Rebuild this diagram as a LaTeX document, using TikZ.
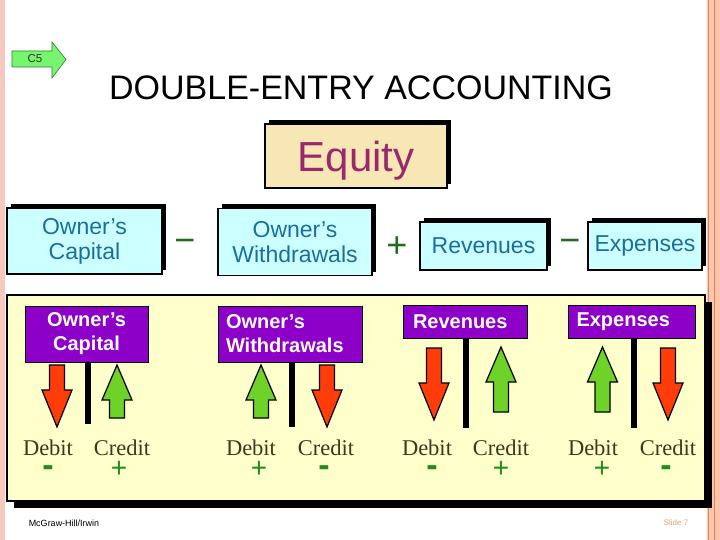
\documentclass[tikz,border=0pt]{standalone}
\usepackage{fontspec}
\setmainfont{Liberation Sans}
\newfontfamily\seriffam{Liberation Serif}
\usetikzlibrary{shadows}
\definecolor{leftpink}{RGB}{248,200,190}
\definecolor{rightpeach}{RGB}{255,196,170}
\definecolor{peachline}{RGB}{215,135,100}
\definecolor{cfivegreen}{RGB}{120,245,110}
\definecolor{cfiveedge}{RGB}{40,130,40}
\definecolor{eqfill}{RGB}{247,231,180}
\definecolor{eqtext}{RGB}{155,40,110}
\definecolor{topcyan}{RGB}{204,255,255}
\definecolor{toptext}{RGB}{25,110,160}
\definecolor{topsign}{RGB}{30,110,30}
\definecolor{panelcream}{RGB}{255,255,204}
\definecolor{hdrpurple}{RGB}{140,0,200}
\definecolor{arrred}{RGB}{255,60,10}
\definecolor{arrgreen}{RGB}{110,210,40}
\definecolor{dctext}{RGB}{60,55,30}
\definecolor{signgreen}{RGB}{30,140,30}
\definecolor{slidecol}{RGB}{230,160,110}
\newcommand\mydownarr[4]{%
 \draw[redarrow] ({#1-7.5},#2) -- ({#1+7.5},#2) -- ({#1+7.5},#3) -- ({#1+15},#3) -- (#1,#4) -- ({#1-15},#3) -- ({#1-7.5},#3) -- cycle;}
\newcommand\myuparr[4]{%
 \draw[greenarrow] (#1,#2) -- ({#1+15},#3) -- ({#1+7.5},#3) -- ({#1+7.5},#4) -- ({#1-7.5},#4) -- ({#1-7.5},#3) -- ({#1-15},#3) -- cycle;}
\begin{document}
\begin{tikzpicture}[x=1pt,y=-1pt,
  topbox/.style={draw=black, line width=1.5pt, fill=topcyan, text=toptext, align=center,
    inner sep=2pt, font=\fontsize{23}{25}\selectfont,
    drop shadow={shadow xshift=4pt, shadow yshift=4pt, fill=black, opacity=1}},
  eqbox/.style={draw=black, line width=1.5pt, fill=eqfill, text=eqtext, text depth=0pt,
    font=\fontsize{42}{46}\selectfont,
    drop shadow={shadow xshift=4pt, shadow yshift=4pt, fill=black, opacity=1}},
  topsignst/.style={text=topsign, font=\fontsize{36}{36}\selectfont, inner sep=0pt},
  hdr/.style={draw=black, line width=1pt, fill=hdrpurple, text=white, inner sep=2pt,
    font=\bfseries\fontsize{20}{24}\selectfont},
  stem/.style={line width=6pt, black},
  redarrow/.style={fill=arrred, draw=black, line width=1.2pt, line join=miter},
  greenarrow/.style={fill=arrgreen, draw=black, line width=1.2pt, line join=miter},
  dc/.style={text=dctext, anchor=base, inner sep=0pt, font=\seriffam\fontsize{22.5}{24}\selectfont},
  minussign/.style={text=signgreen, anchor=base, inner sep=0pt, font=\bfseries\fontsize{34}{34}\selectfont},
  plussign/.style={text=signgreen, anchor=base, inner sep=0pt, font=\fontsize{28}{28}\selectfont}
]
\useasboundingbox (0,0) rectangle (720,540);
\fill[white] (0,0) rectangle (720,540);
% side strips
\fill[leftpink] (0,0) rectangle (5,540);
\fill[rightpeach] (707,0) rectangle (720,540);
\draw[peachline, line width=1pt] (708,0) -- (708,540);
\draw[peachline, line width=1pt] (714,0) -- (714,540);
% C5 arrow
\draw[fill=cfivegreen, draw=cfiveedge, line width=0.6pt] (12,51) -- (52,51) -- (52,42) -- (66,59.5) -- (52,78) -- (52,67) -- (12,67) -- cycle;
\node[text={rgb,255:red,50;green,50;blue,50}, font=\fontsize{11.5}{12}\selectfont, inner sep=0pt] (cfive) at (35,59) {C5};
% title
\node[font=\fontsize{34}{36}\selectfont, inner sep=0pt] (title) at (361,88) {DOUBLE-ENTRY ACCOUNTING};
% Equity
\node[eqbox, minimum width=182pt, minimum height=64pt] (equity) at (356,156) {Equity};
% top row
\node[topbox, minimum width=155pt, minimum height=66pt] (tcap) at (84.5,241) {Owner’s\\Capital};
\node[topsignst] (m1) at (185,246) {−};
\node[topbox, minimum width=154pt, minimum height=67pt] (twd) at (295,242) {Owner's\\Withdrawals};
\node[topsignst] (p1) at (397,247) {+};
\node[topbox, minimum width=127pt, minimum height=48pt] (trev) at (483.5,246) {Revenues};
\node[topsignst] (m2) at (570,246) {−};
\node[topbox, minimum width=114pt, minimum height=48pt] (texp) at (645,246) {Expenses};
% panel
\fill[black] (14,302) rectangle (712,508);
\draw[fill=panelcream, draw=black, line width=1.2pt] (7,295) rectangle (705,501);
% headers
\node[hdr, align=center, minimum width=123pt, minimum height=56pt] (hcap) at (86.5,334) {Owner’s\\Capital};
\node[hdr, align=left, text width=128pt, minimum width=144pt, minimum height=56pt] (hwd) at (290,334) {Owner's\\Withdrawals};
\node[hdr, align=left, text width=104pt, minimum width=124pt, minimum height=33pt] (hrev) at (465,321.5) {Revenues};
\node[hdr, align=left, text width=110pt, minimum width=127pt, minimum height=33pt] (hexp) at (631.5,321.5) {Expenses};
% stems
\draw[stem] ([xshift=1pt]hcap.south) -- ++(0,61);
\draw[stem] ([xshift=1.5pt]hwd.south) -- ++(0,64);
\draw[stem] ([xshift=1pt]hrev.south) -- ++(0,89);
\draw[stem] ([xshift=2pt]hexp.south) -- ++(0,89);
% arrows
\mydownarr{57}{365}{390}{427}
\myuparr{117}{365}{400}{418}
\myuparr{261}{365}{400}{418}
\mydownarr{327}{365}{390}{427}
\mydownarr{434}{348}{383}{420}
\myuparr{501}{347}{382}{412}
\myuparr{602.5}{347}{382}{412}
\mydownarr{668}{348}{383}{420}
% debit / credit labels
\node[dc] (d1) at (48,455) {Debit};
\node[dc] (c1) at (122,455) {Credit};
\node[dc] (d2) at (251,455) {Debit};
\node[dc] (c2) at (326,455) {Credit};
\node[dc] (d3) at (427,455) {Debit};
\node[dc] (c3) at (501,455) {Credit};
\node[dc] (d4) at (593,455) {Debit};
\node[dc] (c4) at (668,455) {Credit};
% signs
\node[minussign] (s1) at (48,476) {-};
\node[plussign] (s2) at (119,477) {+};
\node[plussign] (s3) at (259,477) {+};
\node[minussign] (s4) at (324,476) {-};
\node[minussign] (s5) at (432,476) {-};
\node[plussign] (s6) at (501,477) {+};
\node[plussign] (s7) at (602,477) {+};
\node[minussign] (s8) at (666,476) {-};
% footer
\node[font=\fontsize{9}{10}\selectfont, inner sep=0pt] (foot) at (64,523) {McGraw-Hill/Irwin};
\node[text=slidecol, font=\fontsize{8}{9}\selectfont, inner sep=0pt] (slide) at (676,523) {Slide 7};
\end{tikzpicture}
\end{document}
